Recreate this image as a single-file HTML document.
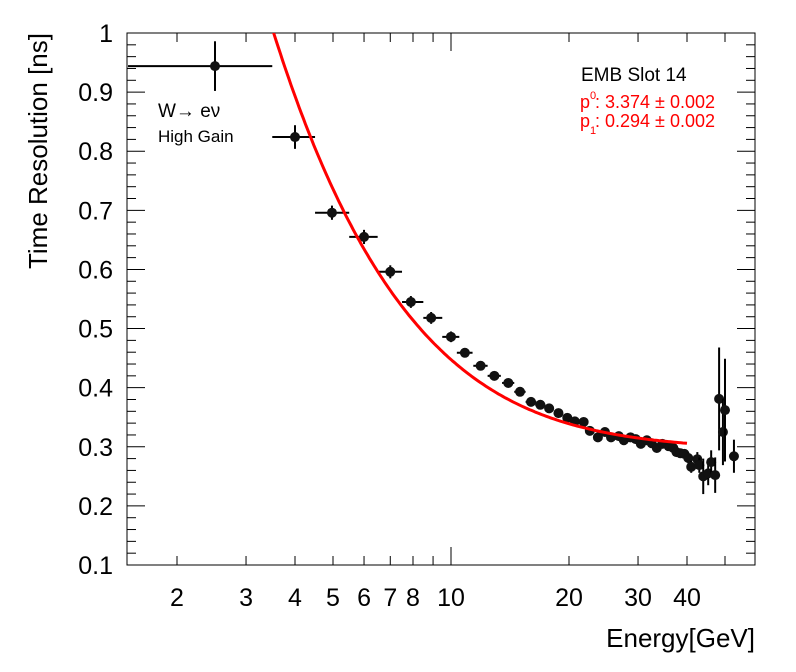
<!DOCTYPE html>
<html><head><meta charset="utf-8"><style>
body{margin:0;background:#fff;}
svg{display:block;font-family:"Liberation Sans",Arial,sans-serif;}
</style></head><body>
<svg id="chart" width="796" height="672" viewBox="0 0 796 672"></svg>
<script>
const energies=[2.5,4,4.97,6,7,7.9,8.9,10,10.85,11.9,12.9,14,15,16,16.9,17.8,18.8,19.8,20.7,21.8,22.6,23.7,24.7,25.6,26.8,27.6,28.7,29.6,30.5,31.6,32.5,33.5,34.6,35.9,36.9,37.6,38.5,39.4,40.3,41.0,42.5,43.0,44.0,45.3,46.1,47.2,48.3,49.4,50.0,52.7];
const resolutions=[0.944,0.824,0.696,0.655,0.596,0.545,0.518,0.486,0.459,0.437,0.420,0.408,0.393,0.376,0.371,0.365,0.357,0.349,0.343,0.342,0.327,0.316,0.325,0.316,0.318,0.311,0.316,0.313,0.305,0.311,0.306,0.298,0.305,0.301,0.298,0.291,0.289,0.288,0.281,0.266,0.279,0.269,0.250,0.255,0.274,0.252,0.381,0.325,0.362,0.284];
const resErrors=[0.042,0.02,0.012,0.012,0.011,0.01,0.01,0.009,0.008,0.007,0.007,0.007,0.006,0.006,0.006,0.006,0.006,0.006,0.006,0.006,0.006,0.006,0.006,0.006,0.006,0.006,0.006,0.006,0.006,0.006,0.006,0.006,0.006,0.006,0.007,0.007,0.007,0.008,0.009,0.01,0.012,0.013,0.03,0.02,0.02,0.03,0.087,0.056,0.087,0.028];
const binLow=[1.5,3.5,4.5,5.5,6.5,7.5,8.5,9.5];
const binHigh=[3.5,4.5,5.5,6.5,7.5,8.5,9.5,10.5];
const fitP0=3.374, fitP1=0.294, fitMin=3.5, fitMax=40;
const yTicks=[0.1,0.2,0.3,0.4,0.5,0.6,0.7,0.8,0.9,1];
const yTickLabels=["0.1","0.2","0.3","0.4","0.5","0.6","0.7","0.8","0.9","1"];
const xTicks=[2,3,4,5,6,7,8,10,20,30,40];
const xTickLabels=["2","3","4","5","6","7","8","10","20","30","40"];

const L=127,R=755,T=33,B=565;
const dec=392;
const X=e=>177+(Math.log10(e)-Math.log10(2))*dec;
const Y=v=>B-(v-0.1)/0.9*(B-T);
const svg=document.getElementById('chart');
const NS='http://www.w3.org/2000/svg';
function mk(tag,attrs,parent){const e=document.createElementNS(NS,tag);for(const k in attrs)e.setAttribute(k,attrs[k]);(parent||svg).appendChild(e);return e;}

const frame=mk('rect',{x:L,y:T,width:R-L,height:B-T,fill:'none',stroke:'#000','stroke-width':1});



for(let v=0.1;v<=1.0001;v+=0.02){
  const y=Y(v);const major=Math.abs(Math.round(v*10)-v*10)<1e-6;const len=major?18:9;
  const t1=mk('line',{x1:L,x2:L+len,y1:y,y2:y,stroke:'#000'});
  
  
  const t2=mk('line',{x1:R,x2:R-len,y1:y,y2:y,stroke:'#000'});
  
  
}
yTicks.forEach((v,i)=>{
  const t=mk('text',{x:113,y:Y(v)+9,'text-anchor':'end','font-size':25});
  t.textContent=yTickLabels[i];
  
  
});
const minors=[2,3,4,5,6,7,8,9,10,20,30,40,50];
minors.forEach(e=>{
  const x=X(e);const len=e===10?18:9;
  const a=mk('line',{x1:x,x2:x,y1:B,y2:B-len,stroke:'#000'});
  
  
  const b=mk('line',{x1:x,x2:x,y1:T,y2:T+len,stroke:'#000'});
  
  
});
xTicks.forEach((e,i)=>{
  const t=mk('text',{x:X(e),y:606,'text-anchor':'middle','font-size':25});
  t.textContent=xTickLabels[i];
  
  
});
const xt=mk('text',{x:755,y:647,'text-anchor':'end','font-size':26});
xt.textContent='Energy[GeV]';


const yt=mk('text',{x:0,y:0,'text-anchor':'end','font-size':26,transform:'translate(47,33) rotate(-90)'});
yt.textContent='Time Resolution [ns]';



const clip=mk('clipPath',{id:'cp'});mk('rect',{x:L,y:T,width:R-L,height:B-T},clip);
const g=mk('g',{'clip-path':'url(#cp)'});


energies.forEach((e,i)=>{
  const lo=i<binLow.length?binLow[i]:e-0.5, hi=i<binHigh.length?binHigh[i]:e+0.5;
  const x=X(e),y=Y(resolutions[i]);
  mk('line',{x1:X(lo),x2:X(hi),y1:y,y2:y,stroke:'#000','stroke-width':2},g);
  mk('line',{x1:x,x2:x,y1:Y(resolutions[i]-resErrors[i]),y2:Y(resolutions[i]+resErrors[i]),stroke:'#000','stroke-width':2},g);
  const c=mk('circle',{cx:x,cy:y,r:5,fill:'#111'},g);
  
  
});
let d='';
for(let k=0;k<=200;k++){
  const e=Math.pow(10,Math.log10(fitMin)+k/200*(Math.log10(fitMax)-Math.log10(fitMin)));
  const v=Math.sqrt((fitP0/e)**2+fitP1**2);
  d+=(k?'L':'M')+X(e).toFixed(1)+','+Y(v).toFixed(1);
}
const fit=mk('path',{d:d,fill:'none',stroke:'#f00','stroke-width':3,'clip-path':'url(#cp)'});



function txt(x,y,s,size,fill,name){const t=mk('text',{x:x,y:y,'font-size':size,fill:fill});t.textContent=s;return t;}
txt(158,117,'W\u2192 e\u03bd',19,'#000','process-label');
txt(158,142,'High Gain',17,'#000','gain-label');
txt(581,81,'EMB Slot 14',19,'#000','slot-label');
txt(580,108,'p : 3.374 \u00b1 0.002',18,'#f00','fit-param-p0');
txt(590,99,'0',11,'#f00','p0-subscript');
txt(580,127,'p : 0.294 \u00b1 0.002',18,'#f00','fit-param-p1');
txt(590,134,'1',11,'#f00','p1-subscript');
</script>
</body></html>
